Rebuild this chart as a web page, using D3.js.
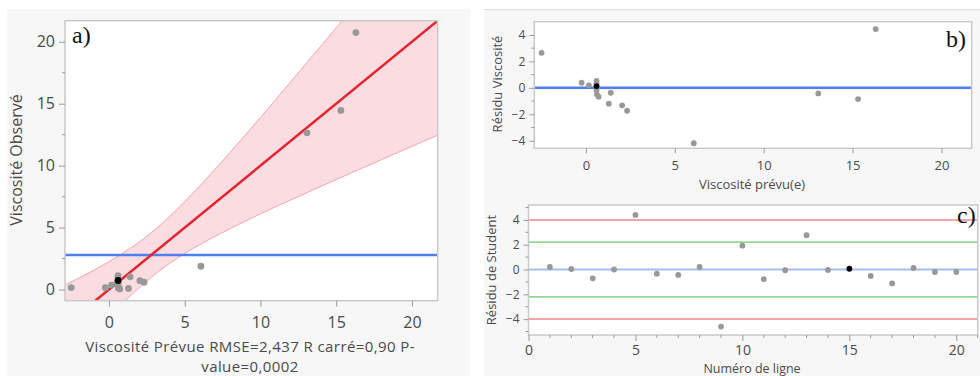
<!DOCTYPE html>
<html>
<head>
<meta charset="utf-8">
<script src="https://cdn.jsdelivr.net/npm/d3@7"></script>
<style>
  html, body { margin: 0; padding: 0; background: #ffffff; }
  svg { display: block; }
  text { font-family: "Open Sans", "Noto Sans", sans-serif; }
  text.panel-tag { font-family: "Liberation Serif", "DejaVu Serif", serif; }
</style>
</head>
<body>
<svg id="chart" width="980" height="376"></svg>
<script>
// Predicted vs. observed viscosity, one entry per run (row)
const predicted = [-2.49, -0.24, 0.17, 0.60, 0.60, 0.60, 0.62, 0.72, 1.29, 1.40, 2.04, 2.32, 6.07, 13.07, 15.31, 16.30, 0.60, 0.60, 0.60, 0.60];
const observed  = [ 0.16,  0.15, 0.36, 1.13, 0.94, 0.43, 0.13, 0.05, 0.09, 1.03, 0.72, 0.59, 1.88, 12.65, 14.46, 20.74, 0.70, 0.62, 0.55, 0.73];
const selectedIndex = 19;           // highlighted run (drawn in black)

// Studentized residuals by row number
const rowNumber = [1, 2, 3, 4, 5, 6, 7, 8, 9, 10, 11, 12, 13, 14, 15, 16, 17, 18, 19, 20];
const studentResidual = [0.20, 0.04, -0.71, 0.00, 4.40, -0.34, -0.44, 0.20, -4.60, 1.92, -0.77, -0.06, 2.76, -0.04, 0.06, -0.52, -1.12, 0.12, -0.20, -0.20];
const selectedRow = 15;

// Fit line (observed = intercept + slope * predicted) and mean of observed
const fitIntercept = 0.0;
const fitSlope = 1.0;
const meanObserved = 2.78;

// Confidence curves around the fit
const bandX     = [-2.9, -1.0, 0.0, 1.0, 2.0, 2.8, 4.0, 6.0, 8.0, 10.0, 12.0, 14.0, 16.0, 18.0, 20.0, 21.7];
const bandLower = [-6.17, -3.56, -2.25, -1.00, 0.16, 1.00, 2.11, 3.63, 4.92, 6.11, 7.23, 8.33, 9.42, 10.49, 11.56, 12.46];
const bandUpper = [0.37, 1.56, 2.25, 3.00, 3.84, 4.60, 5.89, 8.37, 11.08, 13.89, 16.77, 19.67, 22.58, 25.51, 28.44, 30.94];

// Tick values
const ticksA = [0, 5, 10, 15, 20];
const minorTicksA = [2.5, 7.5, 12.5, 17.5];
const ticksBy = [-4, -2, 0, 2, 4];
const minorTicksBy = [-3, -1, 1, 3];
const ticksBx = [0, 5, 10, 15, 20];
const ticksCy = [-4, -2, 0, 2, 4];
const minorTicksCy = [-5, -3, -1, 1, 3, 5];
const ticksCx = [0, 5, 10, 15, 20];
const minorTicksCx = [1, 2, 3, 4, 6, 7, 8, 9, 11, 12, 13, 14, 16, 17, 18, 19, 21];

// Student residual limits
const outerLimit = 3.99;
const innerLimit = 2.2;

const svg = d3.select("#chart");
const textColor = "#4a4a4a";
const tickColor = "#9a9a9a";
const frameColor = "#c9c9c9";
const pointColor = "#989898";

// Panel backgrounds
svg.append("rect").attr("x", 7).attr("y", 9).attr("width", 463).attr("height", 367).attr("fill", "#f7f7f7");
svg.append("rect").attr("x", 484).attr("y", 9).attr("width", 496).attr("height", 367).attr("fill", "#f7f7f7");
svg.append("line").attr("x1", 484).attr("x2", 980).attr("y1", 9.5).attr("y2", 9.5).attr("stroke", "#dedede").attr("stroke-width", 1);

function frame(g, x, y) {
  g.append("rect")
    .attr("x", x.range()[0]).attr("y", y.range()[1])
    .attr("width", x.range()[1] - x.range()[0])
    .attr("height", y.range()[0] - y.range()[1])
    .attr("fill", "#ffffff");
}
function frameBorder(g, x, y) {
  g.append("rect")
    .attr("x", x.range()[0]).attr("y", y.range()[1])
    .attr("width", x.range()[1] - x.range()[0])
    .attr("height", y.range()[0] - y.range()[1])
    .attr("fill", "none").attr("stroke", frameColor).attr("stroke-width", 1.5);
}
function styleAxis(sel, fontSize) {
  sel.select(".domain").remove();
  sel.selectAll(".tick line").attr("stroke", tickColor);
  sel.selectAll(".tick text").attr("fill", textColor).attr("font-size", fontSize);
}
function minorY(g, y, x0, vals, len) {
  g.selectAll(null).data(vals).join("line")
    .attr("x1", x0 - len).attr("x2", x0)
    .attr("y1", d => y(d)).attr("y2", d => y(d))
    .attr("stroke", tickColor);
}
function minorX(g, x, y0, vals, len) {
  g.selectAll(null).data(vals).join("line")
    .attr("x1", d => x(d)).attr("x2", d => x(d))
    .attr("y1", y0).attr("y2", y0 + len)
    .attr("stroke", tickColor);
}
function panelTag(g, x, y, label) {
  g.append("text").attr("class", "panel-tag")
    .attr("x", x).attr("y", y)
    .attr("font-size", 24).attr("fill", "#111")
    .text(label);
}

// ---------- Panel a: observed vs predicted ----------
const xA = d3.scaleLinear([-2.9, 21.7], [65, 437.7]);
const yA = d3.scaleLinear([-0.9, 21.7], [300.7, 20.7]);
const gA = svg.append("g");
frame(gA, xA, yA);
gA.append("clipPath").attr("id", "clipA").append("rect")
  .attr("x", 65).attr("y", 20.7).attr("width", 437.7 - 65).attr("height", 280);

const plotA = gA.append("g").attr("clip-path", "url(#clipA)");
const bandData = bandX.map((x, i) => ({ x, lo: bandLower[i], hi: bandUpper[i] }));
plotA.append("path")
  .datum(bandData)
  .attr("d", d3.area().x(d => xA(d.x)).y0(d => yA(d.lo)).y1(d => yA(d.hi)).curve(d3.curveMonotoneX))
  .attr("fill", "#fbdde1");
["lo", "hi"].forEach(k => {
  plotA.append("path")
    .datum(bandData)
    .attr("d", d3.line().x(d => xA(d.x)).y(d => yA(d[k])).curve(d3.curveMonotoneX))
    .attr("fill", "none").attr("stroke", "#f5a3ab").attr("stroke-width", 1);
});
plotA.append("line")
  .attr("x1", xA.range()[0]).attr("x2", xA.range()[1])
  .attr("y1", yA(meanObserved)).attr("y2", yA(meanObserved))
  .attr("stroke", "#4f80f2").attr("stroke-width", 2.5);
const xd = xA.domain();
plotA.append("line")
  .attr("x1", xA(xd[0])).attr("y1", yA(fitIntercept + fitSlope * xd[0]))
  .attr("x2", xA(xd[1])).attr("y2", yA(fitIntercept + fitSlope * xd[1]))
  .attr("stroke", "#e8232e").attr("stroke-width", 2.5);

const idx = d3.range(predicted.length).filter(i => i !== selectedIndex).concat([selectedIndex]);
plotA.selectAll(null).data(idx).join("circle")
  .attr("cx", i => xA(predicted[i])).attr("cy", i => yA(observed[i]))
  .attr("r", 3.4)
  .attr("fill", i => i === selectedIndex ? "#000000" : pointColor);
frameBorder(gA, xA, yA);

gA.append("g").attr("transform", "translate(65,0)")
  .call(d3.axisLeft(yA).tickValues(ticksA).tickSize(6).tickPadding(4))
  .call(s => styleAxis(s, 16));
minorY(gA, yA, 65, minorTicksA, 3);
gA.append("g").attr("transform", "translate(0,300.7)")
  .call(d3.axisBottom(xA).tickValues(ticksA).tickSize(6).tickPadding(10))
  .call(s => styleAxis(s, 16));

gA.append("text")
  .attr("transform", "translate(22,160) rotate(-90)")
  .attr("text-anchor", "middle").attr("fill", textColor).attr("font-size", 16)
  .text("Viscosité Observé");
gA.append("text").attr("x", 250).attr("y", 351.5)
  .attr("text-anchor", "middle").attr("fill", textColor).attr("font-size", 15)
  .attr("letter-spacing", 0.4)
  .text("Viscosité Prévue RMSE=2,437 R carré=0,90 P-");
gA.append("text").attr("x", 250).attr("y", 371.7)
  .attr("text-anchor", "middle").attr("fill", textColor).attr("font-size", 15)
  .attr("letter-spacing", 0.4)
  .text("value=0,0002");
panelTag(gA, 72, 43, "a)");

// ---------- Panel b: residual vs predicted ----------
const xB = d3.scaleLinear([-2.9, 21.7], [534.3, 971.7]);
const yB = d3.scaleLinear([-4.57, 5.0], [148.3, 21.7]);
const gB = svg.append("g");
frame(gB, xB, yB);
gB.append("line")
  .attr("x1", xB.range()[0]).attr("x2", xB.range()[1])
  .attr("y1", yB(0)).attr("y2", yB(0))
  .attr("stroke", "#4f80f2").attr("stroke-width", 2.5);
gB.selectAll(null).data(idx).join("circle")
  .attr("cx", i => xB(predicted[i])).attr("cy", i => yB(observed[i] - predicted[i]))
  .attr("r", 2.9)
  .attr("fill", i => i === selectedIndex ? "#000000" : pointColor);
frameBorder(gB, xB, yB);
gB.append("g").attr("transform", "translate(534.3,0)")
  .call(d3.axisLeft(yB).tickValues(ticksBy).tickSize(5).tickPadding(4).tickFormat(d3.format("d")))
  .call(s => styleAxis(s, 12));
minorY(gB, yB, 534.3, minorTicksBy, 3);
gB.append("g").attr("transform", "translate(0,148.3)")
  .call(d3.axisBottom(xB).tickValues(ticksBx).tickSize(5).tickPadding(7))
  .call(s => styleAxis(s, 13));
gB.append("text")
  .attr("transform", "translate(502,84) rotate(-90)")
  .attr("text-anchor", "middle").attr("fill", textColor).attr("font-size", 13)
  .text("Résidu Viscosité");
gB.append("text").attr("x", 752).attr("y", 189)
  .attr("text-anchor", "middle").attr("fill", textColor).attr("font-size", 13)
  .text("Viscosité prévu(e)");
panelTag(gB, 946, 47, "b)");

// ---------- Panel c: studentized residual by row ----------
const xC = d3.scaleLinear([0, 21], [528.5, 977.7]);
const yC = d3.scaleLinear([-5.28, 5.2], [335, 205]);
const gC = svg.append("g");
frame(gC, xC, yC);
const limitLines = [
  { v: outerLimit, c: "#f4a3a8" }, { v: -outerLimit, c: "#f4a3a8" },
  { v: innerLimit, c: "#92d892" }, { v: -innerLimit, c: "#92d892" },
  { v: 0, c: "#a3bdf2" }
];
gC.selectAll(null).data(limitLines).join("line")
  .attr("x1", xC.range()[0]).attr("x2", xC.range()[1])
  .attr("y1", d => yC(d.v)).attr("y2", d => yC(d.v))
  .attr("stroke", d => d.c).attr("stroke-width", 1.8);
const rowIdx = d3.range(rowNumber.length).filter(i => rowNumber[i] !== selectedRow)
  .concat(d3.range(rowNumber.length).filter(i => rowNumber[i] === selectedRow));
gC.selectAll(null).data(rowIdx).join("circle")
  .attr("cx", i => xC(rowNumber[i])).attr("cy", i => yC(studentResidual[i]))
  .attr("r", 2.9)
  .attr("fill", i => rowNumber[i] === selectedRow ? "#000000" : pointColor);
frameBorder(gC, xC, yC);
gC.append("g").attr("transform", "translate(528.5,0)")
  .call(d3.axisLeft(yC).tickValues(ticksCy).tickSize(5).tickPadding(4).tickFormat(d3.format("d")))
  .call(s => styleAxis(s, 12));
minorY(gC, yC, 528.5, minorTicksCy, 3);
gC.append("g").attr("transform", "translate(0,335)")
  .call(d3.axisBottom(xC).tickValues(ticksCx).tickSize(6).tickPadding(4))
  .call(s => styleAxis(s, 14));
minorX(gC, xC, 335, minorTicksCx, 3);
gC.append("text")
  .attr("transform", "translate(496,270) rotate(-90)")
  .attr("text-anchor", "middle").attr("fill", textColor).attr("font-size", 13)
  .text("Résidu de Student");
gC.append("text").attr("x", 752).attr("y", 372.5)
  .attr("text-anchor", "middle").attr("fill", textColor).attr("font-size", 12.5)
  .text("Numéro de ligne");
panelTag(gC, 957, 223, "c)");
</script>
</body>
</html>
